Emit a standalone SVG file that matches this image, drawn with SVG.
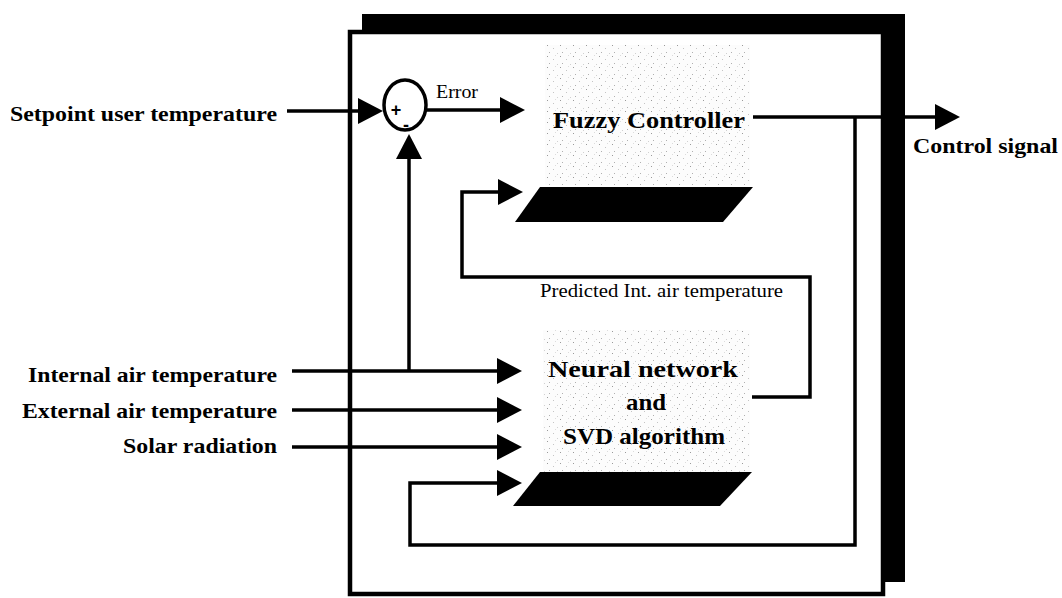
<svg xmlns="http://www.w3.org/2000/svg" width="1062" height="598" viewBox="0 0 1062 598">
<style>
.ln{fill:none;stroke:#000;stroke-width:3.5;stroke-linejoin:miter}
.lbl{font-family:"Liberation Serif","Times New Roman",serif;font-weight:bold;font-size:22px;fill:#000}
.blk{font-family:"Liberation Serif","Times New Roman",serif;font-weight:bold;font-size:24px;fill:#000}
.sm{font-family:"Liberation Serif","Times New Roman",serif;font-size:19px;fill:#000}
</style>
<defs>
<marker id="ah" viewBox="0 0 25 26" refX="20" refY="13" markerWidth="25" markerHeight="26" markerUnits="userSpaceOnUse" orient="auto">
<path d="M0,0 L25,13 L0,26 Z" fill="#000"/>
</marker>
<pattern id="stip" width="13" height="11" patternUnits="userSpaceOnUse">
<rect width="13" height="11" fill="#fcfcfc"/>
<rect x="1" y="1" width="1" height="1" fill="#9a9a9a"/>
<rect x="7" y="4" width="1" height="1" fill="#c4c4c4"/>
<rect x="3" y="8" width="1" height="1" fill="#b0b0b0"/>
<rect x="11" y="9" width="1" height="1" fill="#d0d0d0"/>
<rect x="9" y="0" width="1" height="1" fill="#dcdcdc"/>
</pattern>
</defs>
<rect width="1062" height="598" fill="#fff"/>

<g id="frame">
<path d="M362,14 L905,14 L905,582 L883,582 L883,32 L362,32 Z" fill="#000"/>
<rect x="350" y="32" width="533" height="562" fill="none" stroke="#000" stroke-width="4.5"/>
</g>

<g id="fuzzy">
<rect x="545" y="45" width="205" height="140" fill="url(#stip)"/>
<text class="blk" x="553" y="128" textLength="192" lengthAdjust="spacingAndGlyphs">Fuzzy Controller</text>
<polygon points="540,187 753,187 723,222 515,222" fill="#000"/>
</g>

<g id="neural">
<rect x="543" y="330" width="207" height="142" fill="url(#stip)"/>
<text class="blk" x="643" y="377" text-anchor="middle" textLength="190" lengthAdjust="spacingAndGlyphs">Neural network</text>
<text class="blk" x="646" y="410" text-anchor="middle" textLength="40" lengthAdjust="spacingAndGlyphs">and</text>
<text class="blk" x="644" y="444" text-anchor="middle" textLength="162" lengthAdjust="spacingAndGlyphs">SVD algorithm</text>
<polygon points="540,472 752,472 720,506 513,506" fill="#000"/>
</g>

<g id="sum">
<ellipse cx="405" cy="105" rx="21" ry="25" fill="#fff" stroke="#000" stroke-width="3.5"/>
<text x="396" y="116" text-anchor="middle" font-family="Liberation Sans, Arial, sans-serif" font-weight="bold" font-size="18">+</text>
<text x="406" y="131" text-anchor="middle" font-family="Liberation Sans, Arial, sans-serif" font-weight="bold" font-size="18">-</text>
</g>

<g id="labels">
<text class="lbl" x="10" y="121" textLength="267" lengthAdjust="spacingAndGlyphs">Setpoint user temperature</text>
<text class="lbl" x="28" y="382" textLength="249" lengthAdjust="spacingAndGlyphs">Internal air temperature</text>
<text class="lbl" x="22" y="418" textLength="255" lengthAdjust="spacingAndGlyphs">External air temperature</text>
<text class="lbl" x="123" y="453" textLength="154" lengthAdjust="spacingAndGlyphs">Solar radiation</text>
<text class="lbl" x="913" y="153" textLength="145" lengthAdjust="spacingAndGlyphs">Control signal</text>
<text class="sm" x="436" y="98" textLength="42" lengthAdjust="spacingAndGlyphs">Error</text>
<text class="sm" x="540" y="297" textLength="243" lengthAdjust="spacingAndGlyphs">Predicted Int. air temperature</text>
</g>

<g id="connectors">
<line class="ln" x1="287" y1="111" x2="378" y2="111" marker-end="url(#ah)"/>
<line class="ln" x1="426" y1="110" x2="520" y2="110" marker-end="url(#ah)"/>
<line class="ln" x1="753" y1="117" x2="955" y2="117" marker-end="url(#ah)"/>
<path class="ln" d="M855,117 L855,545 L410,545 L410,483 L517,483" marker-end="url(#ah)"/>
<path class="ln" d="M752,397 L810,397 L810,277 L462,277 L462,192 L518,192" marker-end="url(#ah)"/>
<line class="ln" x1="292" y1="371" x2="517" y2="371" marker-end="url(#ah)"/>
<line class="ln" x1="292" y1="410" x2="517" y2="410" marker-end="url(#ah)"/>
<line class="ln" x1="292" y1="447" x2="517" y2="447" marker-end="url(#ah)"/>
<path class="ln" d="M409,371 L409,139" marker-end="url(#ah)"/>
</g>
</svg>
